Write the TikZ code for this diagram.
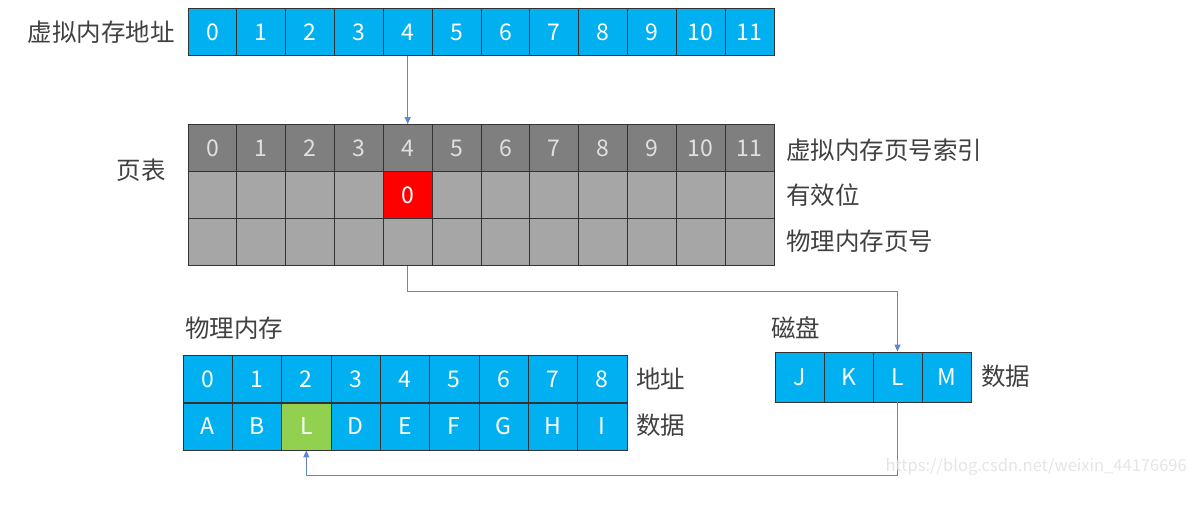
\documentclass[tikz,border=0pt]{standalone}
\usepackage{fontspec}
\setmainfont{Noto Sans CJK SC}
\usetikzlibrary{arrows.meta}
\definecolor{cellblue}{HTML}{00B0F0}
\definecolor{headgray}{HTML}{7F7F7F}
\definecolor{bodygray}{HTML}{A6A6A6}
\definecolor{linkblue}{HTML}{4472C4}
\definecolor{labelgray}{HTML}{404040}
\begin{document}
\begin{tikzpicture}[x=1pt, y=-1pt,
  cell/.style={draw=black!80, line width=0.8pt, rectangle, inner sep=0pt, minimum width=48.8pt, minimum height=47pt, font=\fontsize{23}{23}\selectfont},
  bluecell/.style={cell, fill=cellblue, text=white},
  headcell/.style={cell, fill=headgray, text=black!12},
  graycell/.style={cell, fill=bodygray, text=black!12},
  label/.style={text=labelgray, font=\fontsize{24.5}{24.5}\selectfont, inner sep=0pt},
  link/.style={draw=linkblue!85, line width=1.1pt, -{Triangle[length=7pt, width=6pt]}}]
\useasboundingbox (0,0) rectangle (1200,530);
\node[label, anchor=east] (vlab) at (175,32){虚拟内存地址};
\node[bluecell] (va0) at (212.4,32){0};
\node[bluecell] (va1) at (261.2,32){1};
\node[bluecell] (va2) at (310.1,32){2};
\node[bluecell] (va3) at (358.9,32){3};
\node[bluecell] (va4) at (407.7,32){4};
\node[bluecell] (va5) at (456.6,32){5};
\node[bluecell] (va6) at (505.4,32){6};
\node[bluecell] (va7) at (554.2,32){7};
\node[bluecell] (va8) at (603.0,32){8};
\node[bluecell] (va9) at (651.9,32){9};
\node[bluecell] (va10) at (700.7,32){10};
\node[bluecell] (va11) at (749.5,32){11};

\node[label, anchor=east] (ptlab) at (166,170){页表};
\node[headcell] (pi0) at (212.4,148){0};
\node[headcell] (pi1) at (261.2,148){1};
\node[headcell] (pi2) at (310.1,148){2};
\node[headcell] (pi3) at (358.9,148){3};
\node[headcell] (pi4) at (407.7,148){4};
\node[headcell] (pi5) at (456.6,148){5};
\node[headcell] (pi6) at (505.4,148){6};
\node[headcell] (pi7) at (554.2,148){7};
\node[headcell] (pi8) at (603.0,148){8};
\node[headcell] (pi9) at (651.9,148){9};
\node[headcell] (pi10) at (700.7,148){10};
\node[headcell] (pi11) at (749.5,148){11};
\node[graycell] (pv0) at (212.4,195){};
\node[graycell] (pv1) at (261.2,195){};
\node[graycell] (pv2) at (310.1,195){};
\node[graycell] (pv3) at (358.9,195){};
\node[graycell, fill=red, text=white] (pv4) at (407.7,195){0};
\node[graycell] (pv5) at (456.6,195){};
\node[graycell] (pv6) at (505.4,195){};
\node[graycell] (pv7) at (554.2,195){};
\node[graycell] (pv8) at (603.0,195){};
\node[graycell] (pv9) at (651.9,195){};
\node[graycell] (pv10) at (700.7,195){};
\node[graycell] (pv11) at (749.5,195){};
\node[graycell] (pn0) at (212.4,242){};
\node[graycell] (pn1) at (261.2,242){};
\node[graycell] (pn2) at (310.1,242){};
\node[graycell] (pn3) at (358.9,242){};
\node[graycell] (pn4) at (407.7,242){};
\node[graycell] (pn5) at (456.6,242){};
\node[graycell] (pn6) at (505.4,242){};
\node[graycell] (pn7) at (554.2,242){};
\node[graycell] (pn8) at (603.0,242){};
\node[graycell] (pn9) at (651.9,242){};
\node[graycell] (pn10) at (700.7,242){};
\node[graycell] (pn11) at (749.5,242){};
\node[label, anchor=west] (pilab) at (786,150){虚拟内存页号索引};
\node[label, anchor=west] (pvlab) at (786,195){有效位};
\node[label, anchor=west] (pnlab) at (786,241){物理内存页号};

\node[label, anchor=west] (pmlab) at (185,328){物理内存};
\node[bluecell, minimum width=49.3pt] (pa0) at (207.7,379){0};
\node[bluecell, minimum width=49.3pt] (pa1) at (257.0,379){1};
\node[bluecell, minimum width=49.3pt] (pa2) at (306.3,379){2};
\node[bluecell, minimum width=49.3pt] (pa3) at (355.7,379){3};
\node[bluecell, minimum width=49.3pt] (pa4) at (405.0,379){4};
\node[bluecell, minimum width=49.3pt] (pa5) at (454.3,379){5};
\node[bluecell, minimum width=49.3pt] (pa6) at (503.7,379){6};
\node[bluecell, minimum width=49.3pt] (pa7) at (553.0,379){7};
\node[bluecell, minimum width=49.3pt] (pa8) at (602.3,379){8};
\node[bluecell, minimum width=49.3pt] (pd0) at (207.7,426.5){A};
\node[bluecell, minimum width=49.3pt] (pd1) at (257.0,426.5){B};
\node[bluecell, minimum width=49.3pt, fill={rgb,255:red,146;green,208;blue,80}] (pd2) at (306.3,426.5){L};
\node[bluecell, minimum width=49.3pt] (pd3) at (355.7,426.5){D};
\node[bluecell, minimum width=49.3pt] (pd4) at (405.0,426.5){E};
\node[bluecell, minimum width=49.3pt] (pd5) at (454.3,426.5){F};
\node[bluecell, minimum width=49.3pt] (pd6) at (503.7,426.5){G};
\node[bluecell, minimum width=49.3pt] (pd7) at (553.0,426.5){H};
\node[bluecell, minimum width=49.3pt] (pd8) at (602.3,426.5){I};
\node[label, anchor=west] (palab) at (636,379){地址};
\node[label, anchor=west] (pdlab) at (636,425){数据};

\node[label, anchor=west] (dklab) at (771,328){磁盘};
\node[bluecell, minimum height=50pt] (dk0) at (799.5,377){J};
\node[bluecell, minimum height=50pt] (dk1) at (848.5,377){K};
\node[bluecell, minimum height=50pt] (dk2) at (897.5,377){L};
\node[bluecell, minimum height=50pt] (dk3) at (946.5,377){M};
\node[label, anchor=west] (dkdlab) at (981,376){数据};

\draw[link] (va4.south) -- (pi4.north);
\draw[link] (pn4.south) -- ++(0,26) -| (dk2.north);
\draw[link] (dk2.south) -- ++(0,73) -| (pd2.south);

\node[text=black!10, font=\fontsize{16.5}{16.5}\selectfont, anchor=west] (mark) at (882,467){https://blog.csdn.net/weixin\_44176696};
\end{tikzpicture}
\end{document}
